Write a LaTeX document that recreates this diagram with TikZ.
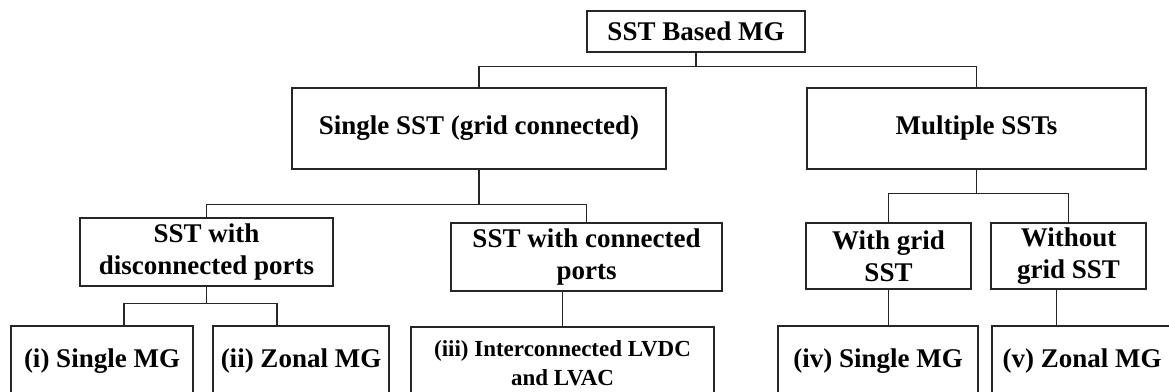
\documentclass[tikz,border=0pt]{standalone}
\usepackage{fontspec}
\setmainfont{Liberation Serif}
\usepackage{tikz}
\usetikzlibrary{calc,positioning}
\tikzstyle{box} = [rectangle, draw=black!85, line width=1.1pt, align=center, inner sep=0pt, font=\fontsize{20.25}{24}\selectfont\bfseries]
\tikzstyle{smalltext} = [font=\fontsize{17.25}{21.5}\selectfont\bfseries]
\tikzstyle{link} = [draw=black!85, line width=1.1pt]
\tikzset{boxw/.style={minimum width=#1*0.75pt}, boxh/.style={minimum height=#1*0.75pt}}

\begin{document}
\begin{tikzpicture}[x=0.75pt, y=0.75pt]
\useasboundingbox (0,0) rectangle (1169,-392);

\node [box, boxw=218, boxh=41] (root) at (696,-31.5) {SST Based MG};
\node [box, boxw=374, boxh=81] (single) at (479,-128.5) {Single SST (grid connected)};
\node [box, boxw=339, boxh=81] (multi) at (976.5,-128.5) {Multiple SSTs};
\node [box, boxw=253, boxh=68] (disc) at (206.5,-252) {SST with\\disconnected ports};
\node [box, boxw=271, boxh=68] (conn) at (586.5,-257) {SST with connected\\ports};
\node [box, boxw=165, boxh=66] (withg) at (888.5,-256) {With grid\\SST};
\node [box, boxw=155, boxh=66] (nogrid) at (1068.5,-256) {Without\\grid SST};
\node [box, boxw=182, boxh=70] (mgi) at (102,-361) {(i) Single MG};
\node [box, boxw=176, boxh=70] (mgii) at (301,-361) {(ii) Zonal MG};
\node [box, smalltext, boxw=303, boxh=72] (mgiii) at (562.5,-363) {(iii) Interconnected LVDC\\and LVAC};
\node [box, boxw=200, boxh=70] (mgiv) at (878,-361) {(iv) Single MG};
\node [box, boxw=180, boxh=70] (mgv) at (1082,-361) {(v) Zonal MG};

\path [link] (root.south) -- ++(0,-14) -| (single.north);
\path [link] (root.south) -- ++(0,-14) -| (multi.north);
\path [link] (single.south) -- ++(0,-35) -| (disc.north);
\path [link] (single.south) -- ++(0,-35) -| (conn.north);
\path [link] (multi.south) -- ++(0,-24) -| (withg.north);
\path [link] (multi.south) -- ++(0,-24) -| (nogrid.north);
\path [link] (disc.south) -- ++(0,-17) -| ($(mgi.north)+(22,0)$);
\path [link] (disc.south) -- ++(0,-17) -| ($(mgii.north)+(-24,0)$);
\path [link] (conn.south -| mgiii.north) -- (mgiii.north);
\path [link] (withg.south) -- (withg.south |- mgiv.north);
\path [link] ($(nogrid.south)+(-12,0)$) -- ++(0,-37);

\end{tikzpicture}
\end{document}
